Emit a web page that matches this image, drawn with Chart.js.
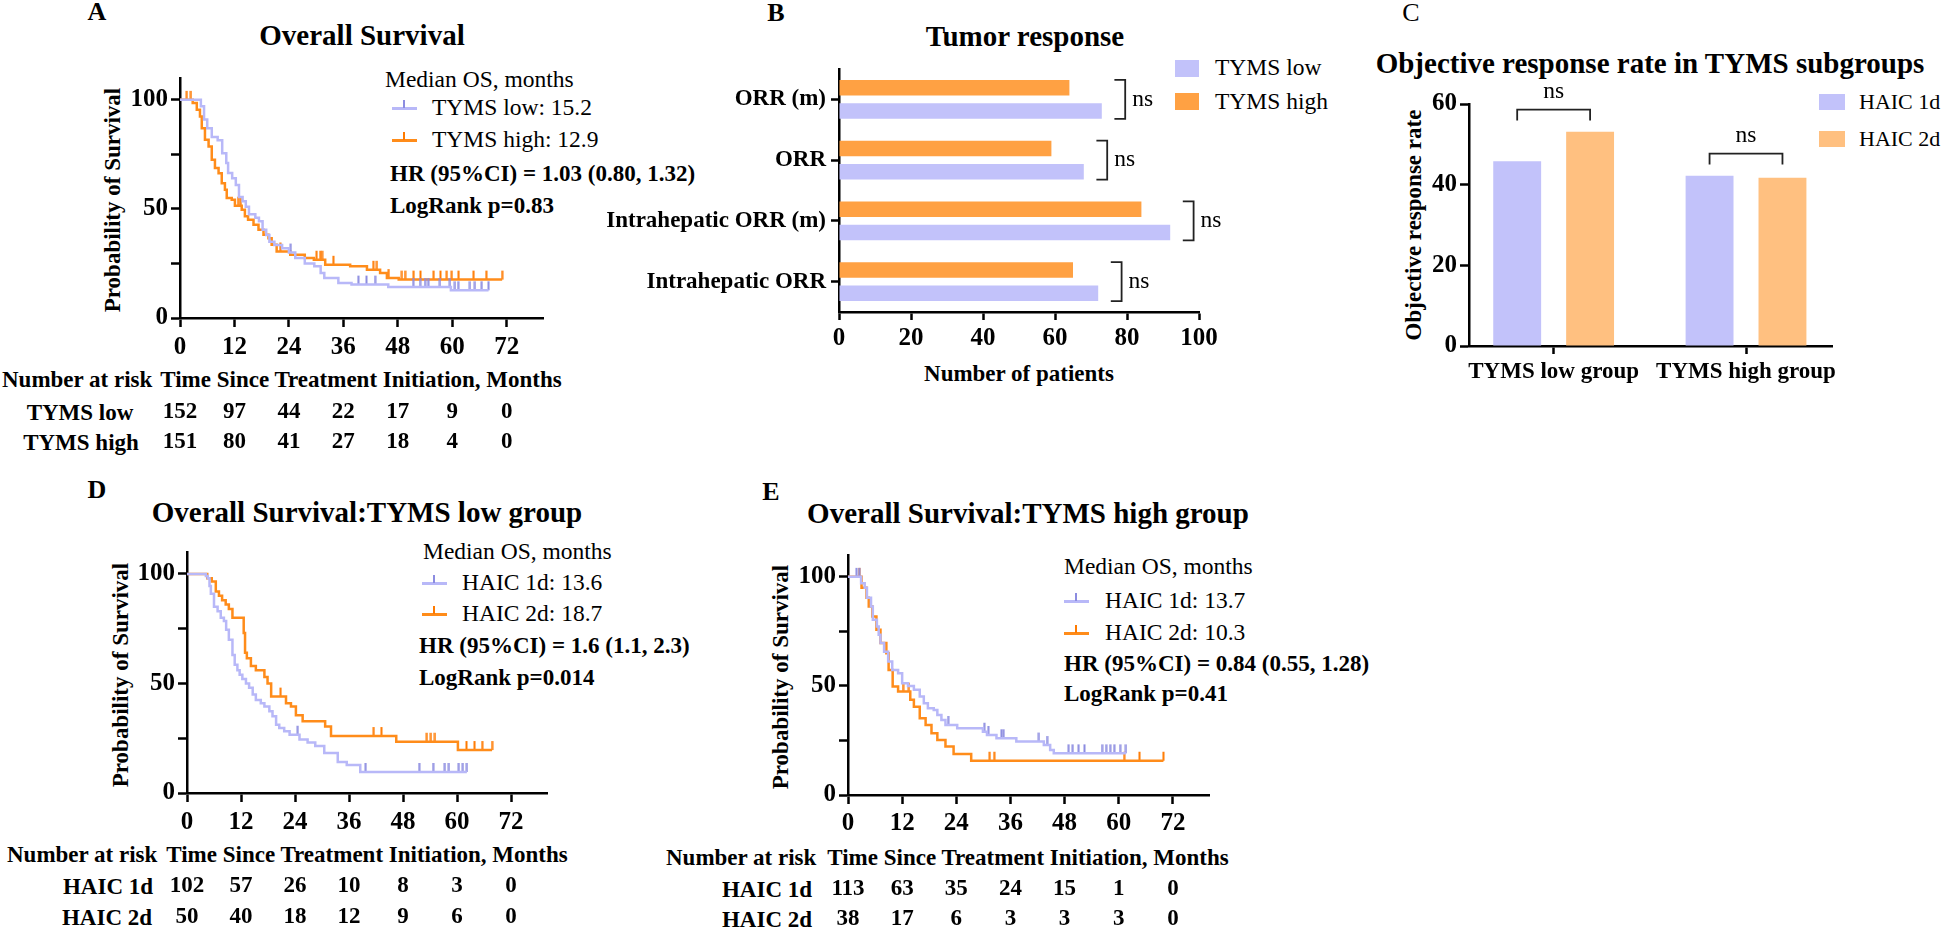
<!DOCTYPE html>
<html>
<head>
<meta charset="utf-8">
<script src="https://cdn.jsdelivr.net/npm/chart.js@4.4.0/dist/chart.umd.min.js"></script>
<style>
  body { margin: 0; background: #fff; }
  #fig { position: relative; width: 1944px; height: 929px; background: #fff; overflow: hidden;
         font-family: 'Liberation Serif', serif; color: #000; }
  canvas { position: absolute; }
  .t { position: absolute; white-space: nowrap; line-height: 1; font-size: 23px; transform: translateY(-50%); }
  .r { font-size: 23.5px; }
  .rc { font-size: 22px; }
  .b { font-weight: bold; }
  .c { transform: translate(-50%, -50%); }
  .v { transform: translate(-50%, -50%) rotate(-90deg); }
  .ttl { font-size: 29px; font-weight: bold; }
  .lt { font-size: 26px; }
  .sw { position: absolute; }
</style>
</head>
<body>
<div id="fig">
  <!-- panel letters and titles -->
  <div class="t c b lt" style="left:97px;top:12px">A</div>
  <div class="t c b lt" style="left:776px;top:13px">B</div>
  <div class="t c lt" style="left:1411px;top:13px">C</div>
  <div class="t c b lt" style="left:97px;top:490px">D</div>
  <div class="t c b lt" style="left:771px;top:492px">E</div>

  <div class="t c ttl" style="left:362px;top:35px">Overall Survival</div>
  <div class="t c ttl" style="left:1025px;top:36px">Tumor response</div>
  <div class="t c ttl" style="left:1650px;top:63px">Objective response rate in TYMS subgroups</div>
  <div class="t c ttl" style="left:367px;top:512px">Overall Survival:TYMS low group</div>
  <div class="t c ttl" style="left:1028px;top:513px">Overall Survival:TYMS high group</div>

  <!-- axis titles -->
  <div class="t v b" style="left:112px;top:200px">Probability of Survival</div>
  <div class="t v b" style="left:120px;top:675px">Probability of Survival</div>
  <div class="t v b" style="left:780px;top:677px">Probability of Survival</div>
  <div class="t v b" style="left:1413px;top:225px">Objective response rate</div>
  <div class="t c b" style="left:1019px;top:373px">Number of patients</div>

  <!-- panel A legend -->
  <div class="t r" style="left:385px;top:80px">Median OS, months</div>
  <div class="sw" style="left:392px;top:107px;width:25px;height:2.5px;background:#b8b8f8"></div>
  <div class="sw" style="left:403px;top:100px;width:2px;height:8px;background:#8c8ce0"></div>
  <div class="t r" style="left:432px;top:108px">TYMS low: 15.2</div>
  <div class="sw" style="left:392px;top:139px;width:25px;height:2.5px;background:#ff8c1a"></div>
  <div class="sw" style="left:403px;top:132px;width:2px;height:8px;background:#ff7a00"></div>
  <div class="t r" style="left:432px;top:140px">TYMS high: 12.9</div>
  <div class="t b" style="left:390px;top:173px">HR (95%CI) = 1.03 (0.80, 1.32)</div>
  <div class="t b" style="left:390px;top:205px">LogRank p=0.83</div>

  <!-- panel D legend -->
  <div class="t r" style="left:423px;top:552px">Median OS, months</div>
  <div class="sw" style="left:422px;top:582px;width:25px;height:2.5px;background:#b8b8f8"></div>
  <div class="sw" style="left:433px;top:575px;width:2px;height:8px;background:#8c8ce0"></div>
  <div class="t r" style="left:462px;top:583px">HAIC 1d: 13.6</div>
  <div class="sw" style="left:422px;top:613px;width:25px;height:2.5px;background:#ff8c1a"></div>
  <div class="sw" style="left:433px;top:606px;width:2px;height:8px;background:#ff7a00"></div>
  <div class="t r" style="left:462px;top:614px">HAIC 2d: 18.7</div>
  <div class="t b" style="left:419px;top:645px">HR (95%CI) = 1.6 (1.1, 2.3)</div>
  <div class="t b" style="left:419px;top:677px">LogRank p=0.014</div>

  <!-- panel E legend -->
  <div class="t r" style="left:1064px;top:567px">Median OS, months</div>
  <div class="sw" style="left:1064px;top:600px;width:25px;height:2.5px;background:#b8b8f8"></div>
  <div class="sw" style="left:1075px;top:593px;width:2px;height:8px;background:#8c8ce0"></div>
  <div class="t r" style="left:1105px;top:601px">HAIC 1d: 13.7</div>
  <div class="sw" style="left:1064px;top:632px;width:25px;height:2.5px;background:#ff8c1a"></div>
  <div class="sw" style="left:1075px;top:625px;width:2px;height:8px;background:#ff7a00"></div>
  <div class="t r" style="left:1105px;top:633px">HAIC 2d: 10.3</div>
  <div class="t b" style="left:1064px;top:663px">HR (95%CI) = 0.84 (0.55, 1.28)</div>
  <div class="t b" style="left:1064px;top:693px">LogRank p=0.41</div>

  <!-- panel B / C legends -->
  <div class="sw" style="left:1175px;top:60px;width:24px;height:17px;background:#c2c2fa"></div>
  <div class="t r" style="left:1215px;top:68px">TYMS low</div>
  <div class="sw" style="left:1175px;top:93px;width:24px;height:17px;background:#ffa143"></div>
  <div class="t r" style="left:1215px;top:102px">TYMS high</div>
  <div class="sw" style="left:1819px;top:94px;width:26px;height:16px;background:#c2c2fa"></div>
  <div class="t rc" style="left:1859px;top:102px">HAIC 1d</div>
  <div class="sw" style="left:1819px;top:131px;width:26px;height:16px;background:#ffc080"></div>
  <div class="t rc" style="left:1859px;top:139px">HAIC 2d</div>

  <!-- number at risk headers -->
  <div class="t b" style="left:2px;top:379px">Number at risk</div>
  <div class="t c b" style="left:361px;top:379px">Time Since Treatment Initiation, Months</div>
  <div class="t c b" style="left:80px;top:412px">TYMS low</div>
  <div class="t c b" style="left:81px;top:442px">TYMS high</div>

  <div class="t b" style="left:7px;top:854px">Number at risk</div>
  <div class="t c b" style="left:367px;top:854px">Time Since Treatment Initiation, Months</div>
  <div class="t c b" style="left:108px;top:886px">HAIC 1d</div>
  <div class="t c b" style="left:107px;top:917px">HAIC 2d</div>

  <div class="t b" style="left:666px;top:857px">Number at risk</div>
  <div class="t c b" style="left:1028px;top:857px">Time Since Treatment Initiation, Months</div>
  <div class="t c b" style="left:767px;top:889px">HAIC 1d</div>
  <div class="t c b" style="left:767px;top:919px">HAIC 2d</div>

  <canvas id="chartA"></canvas>
  <canvas id="chartB"></canvas>
  <canvas id="chartC"></canvas>
  <canvas id="chartD"></canvas>
  <canvas id="chartE"></canvas>
</div>

<script>
// ---- data ----
const riskTimes = [0, 12, 24, 36, 48, 60, 72];

// A: overall survival by TYMS (time in months, survival %)
const aLowSteps = [[0,100],[4.6,97],[5.3,91],[6.0,87],[7.0,83],[8.3,81.5],[9.3,75.5],[10.2,71],[10.6,66.5],[11.5,64],[12.3,61],[13.0,55.5],[13.8,53.5],[14.5,51],[15.2,47.5],[16.6,46],[17.4,44.3],[18.2,40.5],[19.0,38],[19.7,35],[20.8,33.5],[22.5,32],[24.0,30],[25.4,27.5],[27.5,25],[29.6,23.7],[31.0,20.6],[31.8,18.3],[34.9,16],[37.8,15.3],[45.9,14.2],[59.7,12.7],[68,12.7]];
const aLowCens = [[24.4,30],[39.3,15.3],[41.1,15.3],[43.0,15.3],[51.4,14.2],[52.9,14.2],[54.0,14.2],[54.7,14.2],[57.3,14.2],[59.5,14.2],[60.6,12.7],[61.3,12.7],[63.9,12.7],[65.0,12.7],[66.5,12.7],[68,12.7]];
const aHighSteps = [[0,100],[2.8,98.5],[3.7,95.4],[4.4,92.4],[4.8,87],[5.5,81.7],[6.3,78.6],[7.0,72.5],[7.7,68.7],[8.5,66.4],[9.2,61.8],[9.9,58.8],[10.3,55],[11.4,54.2],[12.1,51.5],[13.6,49.6],[14.3,46.6],[15.0,45],[16.2,42.7],[17.3,40.5],[18.4,38.2],[19.5,36.6],[20.2,33.6],[21.3,30.5],[24.3,29],[27.5,27.5],[29.5,26.7],[32.0,24.4],[37.5,23.7],[41.2,22.1],[44.1,20.6],[45.6,18.3],[48.2,17.6],[71,17.6]];
const aHighCens = [[1.5,100],[2.4,100],[12.8,51.5],[13.4,51.5],[22.1,30.5],[30.1,26.7],[30.9,26.7],[31.3,26.7],[33.8,24.4],[42.6,22.1],[43.4,22.1],[46.0,18.3],[48.9,17.6],[49.6,17.6],[51.5,17.6],[53.0,17.6],[55.9,17.6],[57.4,17.6],[58.8,17.6],[59.9,17.6],[61.4,17.6],[64.7,17.6],[67.5,17.6],[71,17.6]];
const aRiskLow = [152, 97, 44, 22, 17, 9, 0];
const aRiskHigh = [151, 80, 41, 27, 18, 4, 0];

// B: tumor response
const responseLabels = ['ORR (m)', 'ORR', 'Intrahepatic ORR (m)', 'Intrahepatic ORR'];
const responseLow = [73, 68, 92, 72];
const responseHigh = [64, 59, 84, 65];

// C: objective response rate in subgroups
const groupLabels = ['TYMS low group', 'TYMS high group'];
const orrHaic1d = [45.8, 42.2];
const orrHaic2d = [53.1, 41.7];

// D: TYMS low group
const d1dSteps = [[0,100],[4.2,99],[4.6,98],[5.0,94.5],[5.3,91],[6.0,85],[6.8,83],[7.5,80],[8.2,78.5],[8.7,74.5],[9.3,70],[10.1,63],[10.6,58.5],[11.2,56],[11.7,54],[12.3,52],[13.1,50],[13.8,48],[14.6,45],[15.3,42.5],[16.4,41],[17.2,39.5],[18.3,37.3],[19.0,35],[19.8,31.2],[20.5,29.7],[21.6,28.2],[22.8,26.6],[25.0,24.4],[26.8,23],[28.5,21.5],[30.5,18.3],[33.5,14.2],[35.5,12.8],[38.5,9.6],[62.2,9.6]];
const d1dCens = [[24.6,26.6],[39.7,9.6],[51.6,9.6],[54.7,9.6],[57.3,9.6],[58.2,9.6],[60.4,9.6],[61.3,9.6],[62.2,9.6]];
const d2dSteps = [[0,100],[4.5,98],[5.5,96.5],[6.4,92],[7.1,90],[7.8,88],[8.6,86],[9.3,84],[10.1,80],[12.6,73],[12.9,64],[13.3,61.5],[14.2,58],[15.3,56],[17.2,53],[17.9,50],[18.7,44],[22.0,41],[23.1,39.5],[24.2,35.5],[25.7,32.7],[30.7,30.3],[32.0,26],[46.5,23.4],[60.2,19.6],[67.8,19.6]];
const d2dCens = [[20.8,44],[41.5,26],[43.2,26],[53.3,23.4],[54.2,23.4],[55.1,23.4],[62.1,19.6],[63.9,19.6],[65.6,19.6],[67.8,19.6]];
const dRisk1d = [102, 57, 26, 10, 8, 3, 0];
const dRisk2d = [50, 40, 18, 12, 9, 6, 0];

// E: TYMS high group
const e1dSteps = [[0,100],[2.9,97],[3.7,95],[4.2,90.4],[5.1,86.4],[5.5,80.3],[6.4,77.2],[6.8,73.4],[7.2,69.7],[8.0,65.7],[8.9,61.2],[9.8,57.3],[11.1,55.8],[12.0,51.2],[13.3,50],[14.6,48.2],[15.9,45.1],[16.8,42],[17.7,39.8],[19.0,39],[19.8,36.7],[20.7,34.4],[21.6,32.1],[24.2,30.6],[29.9,29],[30.8,27.5],[32.9,26],[37.3,24.5],[43.4,22.9],[44.8,20.6],[45.6,19.1],[61.6,19.1]];
const e1dCens = [[1.9,100],[2.5,100],[22.2,32.1],[30.2,29],[31.1,27.5],[34.0,26],[34.5,26],[42.3,24.5],[44.1,22.9],[48.9,19.1],[49.8,19.1],[51.1,19.1],[52.4,19.1],[56.3,19.1],[57.2,19.1],[58.1,19.1],[59.0,19.1],[60.3,19.1],[61.6,19.1]];
const e2dSteps = [[0,100],[3.0,95],[4.1,90.4],[4.6,86.4],[5.4,81.8],[6.3,75.7],[7.2,69.7],[8.5,65],[9.0,57.3],[9.9,49.7],[11.1,47.4],[13.8,43.6],[14.6,40.5],[15.9,35.2],[17.2,32.1],[18.5,28.3],[19.8,25.2],[21.6,22.2],[23.4,18.8],[27.3,15.7],[69.9,15.7]];
const e2dCens = [[2.5,100],[12.2,47.4],[13.5,47.4],[31.4,15.7],[32.4,15.7],[61.2,15.7],[64.6,15.7],[69.9,15.7]];
const eRisk1d = [113, 63, 35, 24, 15, 1, 0];
const eRisk2d = [38, 17, 6, 3, 3, 3, 0];

// ---- styling ----
const LAV = '#b8b8f8', LAV_TICK = '#8c8ce0';
const ORG = '#ff8c1a', ORG_TICK = '#ff7a00';
const PAD_T = 20, PAD_R = 30;
const numFont = { size: 25, weight: 'bold' };

Chart.defaults.font.family = "'Liberation Serif', serif";
Chart.defaults.font.size = 23;
Chart.defaults.font.weight = 'bold';
Chart.defaults.color = '#000';
Chart.defaults.animation = false;
Chart.defaults.plugins.legend.display = false;
Chart.defaults.plugins.tooltip.enabled = false;

const axisLine = { color: '#000', width: 2.5 };
const gridOpts = len => ({ drawOnChartArea: false, drawTicks: true, tickLength: len,
  tickColor: '#000', tickWidth: 2.5, offset: false });

// size the canvas so the plot area lands on L,T,R,B of the page
function place(id, L, T, R, B, yW, xH, extra) {
  const c = document.getElementById(id);
  const left = L - yW, top = T - PAD_T;
  const w = R - left + PAD_R, h = B - top + xH + extra;
  c.width = w; c.height = h;
  c.style.left = left + 'px'; c.style.top = top + 'px';
  c.style.width = w + 'px'; c.style.height = h + 'px';
  return c;
}

// censor mark: short vertical stroke sitting on top of the curve
function tickImg(color) {
  const c = document.createElement('canvas');
  c.width = 3; c.height = 20;
  const g = c.getContext('2d');
  g.fillStyle = color;
  g.fillRect(0.5, 1, 2, 9);
  return c;
}

const riskPlugin = {
  id: 'riskTable',
  afterDraw(chart, args, opts) {
    if (!opts.rows) return;
    const ctx = chart.ctx, xs = chart.scales.x, top = chart.canvas.offsetTop;
    ctx.save();
    ctx.font = "bold 23px 'Liberation Serif'";
    ctx.fillStyle = '#000';
    ctx.textAlign = 'center';
    ctx.textBaseline = 'middle';
    opts.rows.forEach(r => r.values.forEach((v, i) => {
      ctx.fillText(String(v), xs.getPixelForValue(riskTimes[i]), r.y - top);
    }));
    ctx.restore();
  }
};

function kmChart(id, box, curves, rows, tickPad) {
  const canvas = place(id, box.L, box.T, box.R, box.B, 70, 42, box.extra);
  const datasets = [];
  curves.forEach(cv => {
    datasets.push({ data: cv.steps.map(p => ({ x: p[0], y: p[1] })), borderColor: cv.color,
      borderWidth: 2.5, stepped: true, pointRadius: 0, fill: false });
    datasets.push({ data: cv.cens.map(p => ({ x: p[0], y: p[1] })), showLine: false,
      pointStyle: tickImg(cv.tick), pointRadius: 4 });
  });
  return new Chart(canvas, {
    type: 'line',
    data: { datasets },
    options: {
      responsive: false, devicePixelRatio: 1,
      layout: { padding: { top: PAD_T, right: PAD_R, bottom: box.extra, left: 0 } },
      scales: {
        x: { type: 'linear', min: 0, max: 80, grid: gridOpts(9), border: axisLine,
          afterBuildTicks: s => { s.ticks = riskTimes.map(v => ({ value: v })); },
          ticks: { padding: tickPad, maxRotation: 0, font: numFont },
          afterFit: s => { s.height = 42; } },
        y: { min: 0, max: 110, grid: gridOpts(9), border: axisLine,
          afterBuildTicks: s => { s.ticks = [0, 25, 50, 75, 100].map(v => ({ value: v })); },
          ticks: { padding: 3, font: numFont, callback: v => (v % 50 === 0 ? v : '') },
          afterFit: s => { s.width = 70; } }
      },
      plugins: { riskTable: { rows } }
    },
    plugins: [riskPlugin]
  });
}

kmChart('chartA', { L: 180, T: 78, R: 543, B: 318, extra: 100 }, [
  { steps: aLowSteps, cens: aLowCens, color: LAV, tick: LAV_TICK },
  { steps: aHighSteps, cens: aHighCens, color: ORG, tick: ORG_TICK }
], [{ y: 412, values: aRiskLow }, { y: 442, values: aRiskHigh }], 6);

kmChart('chartD', { L: 187, T: 552, R: 547, B: 793, extra: 94 }, [
  { steps: d1dSteps, cens: d1dCens, color: LAV, tick: LAV_TICK },
  { steps: d2dSteps, cens: d2dCens, color: ORG, tick: ORG_TICK }
], [{ y: 886, values: dRisk1d }, { y: 917, values: dRisk2d }], 6);

kmChart('chartE', { L: 848, T: 555, R: 1209, B: 795, extra: 92 }, [
  { steps: e1dSteps, cens: e1dCens, color: LAV, tick: LAV_TICK },
  { steps: e2dSteps, cens: e2dCens, color: ORG, tick: ORG_TICK }
], [{ y: 889, values: eRisk1d }, { y: 919, values: eRisk2d }], 5);

// ---- B: horizontal grouped bars with ns brackets ----
const bracketB = {
  id: 'bracketB',
  afterDatasetsDraw(chart) {
    const ctx = chart.ctx, xs = chart.scales.x;
    const hi = chart.getDatasetMeta(0).data, lo = chart.getDatasetMeta(1).data;
    ctx.save();
    ctx.strokeStyle = '#222'; ctx.lineWidth = 1.8;
    ctx.font = "23.5px 'Liberation Serif'"; ctx.fillStyle = '#000';
    ctx.textBaseline = 'middle'; ctx.textAlign = 'left';
    responseLabels.forEach((_, i) => {
      const top = hi[i].y - hi[i].height / 2, bot = lo[i].y + lo[i].height / 2;
      const m = Math.max(responseLow[i], responseHigh[i]);
      const x1 = xs.getPixelForValue(m + 3.5), x2 = xs.getPixelForValue(m + 6.5);
      ctx.beginPath();
      ctx.moveTo(x1, top); ctx.lineTo(x2, top); ctx.lineTo(x2, bot); ctx.lineTo(x1, bot);
      ctx.stroke();
      ctx.fillText('ns', x2 + 7, (top + bot) / 2);
    });
    ctx.restore();
  }
};

new Chart(place('chartB', 839, 69, 1199, 312, 250, 40, 0), {
  type: 'bar',
  data: {
    labels: responseLabels,
    datasets: [
      { label: 'TYMS high', data: responseHigh, backgroundColor: '#ffa143', categoryPercentage: 0.767, barPercentage: 0.67 },
      { label: 'TYMS low', data: responseLow, backgroundColor: '#c2c2fa', categoryPercentage: 0.767, barPercentage: 0.67 }
    ]
  },
  options: {
    indexAxis: 'y', responsive: false, devicePixelRatio: 1,
    layout: { padding: { top: PAD_T, right: PAD_R, bottom: 0, left: 0 } },
    scales: {
      x: { min: 0, max: 100, grid: gridOpts(8), border: axisLine,
        ticks: { stepSize: 20, padding: 4, maxRotation: 0, font: numFont },
        afterFit: s => { s.height = 40; } },
      y: { grid: gridOpts(8), border: axisLine, ticks: { padding: 5, autoSkip: false },
        afterFit: s => { s.width = 250; } }
    }
  },
  plugins: [bracketB]
});

// ---- C: grouped vertical bars with ns brackets ----
const bracketC = {
  id: 'bracketC',
  afterDatasetsDraw(chart) {
    const ctx = chart.ctx, ys = chart.scales.y;
    const a = chart.getDatasetMeta(0).data, b = chart.getDatasetMeta(1).data;
    ctx.save();
    ctx.strokeStyle = '#222'; ctx.lineWidth = 1.8;
    ctx.font = "23.5px 'Liberation Serif'"; ctx.fillStyle = '#000';
    ctx.textBaseline = 'middle'; ctx.textAlign = 'center';
    groupLabels.forEach((_, i) => {
      const m = Math.max(orrHaic1d[i], orrHaic2d[i]);
      const yTop = ys.getPixelForValue(m + 5.5), yLeg = ys.getPixelForValue(m + 2.8);
      ctx.beginPath();
      ctx.moveTo(a[i].x, yLeg); ctx.lineTo(a[i].x, yTop); ctx.lineTo(b[i].x, yTop); ctx.lineTo(b[i].x, yLeg);
      ctx.stroke();
      ctx.fillText('ns', (a[i].x + b[i].x) / 2, yTop - 18);
    });
    ctx.restore();
  }
};

new Chart(place('chartC', 1469, 104, 1832, 346, 60, 40, 0), {
  type: 'bar',
  data: {
    datasets: [
      { label: 'HAIC 1d', data: orrHaic1d.map((v, i) => ({ x: i, y: v })), backgroundColor: '#c2c2fa',
        categoryPercentage: 0.758, barPercentage: 0.657 },
      { label: 'HAIC 2d', data: orrHaic2d.map((v, i) => ({ x: i, y: v })), backgroundColor: '#ffc080',
        categoryPercentage: 0.758, barPercentage: 0.657 }
    ]
  },
  options: {
    responsive: false, devicePixelRatio: 1,
    layout: { padding: { top: PAD_T, right: PAD_R, bottom: 0, left: 0 } },
    scales: {
      x: { type: 'linear', min: -0.44, max: 1.447, offset: false, grid: gridOpts(8), border: axisLine,
        afterBuildTicks: s => { s.ticks = [{ value: 0 }, { value: 1 }]; },
        ticks: { padding: 4, maxRotation: 0, callback: v => groupLabels[v] },
        afterFit: s => { s.height = 40; } },
      y: { min: 0, max: 60, grid: gridOpts(9), border: axisLine,
        ticks: { stepSize: 20, padding: 3, font: numFont },
        afterFit: s => { s.width = 60; } }
    }
  },
  plugins: [bracketC]
});
</script>
</body>
</html>
